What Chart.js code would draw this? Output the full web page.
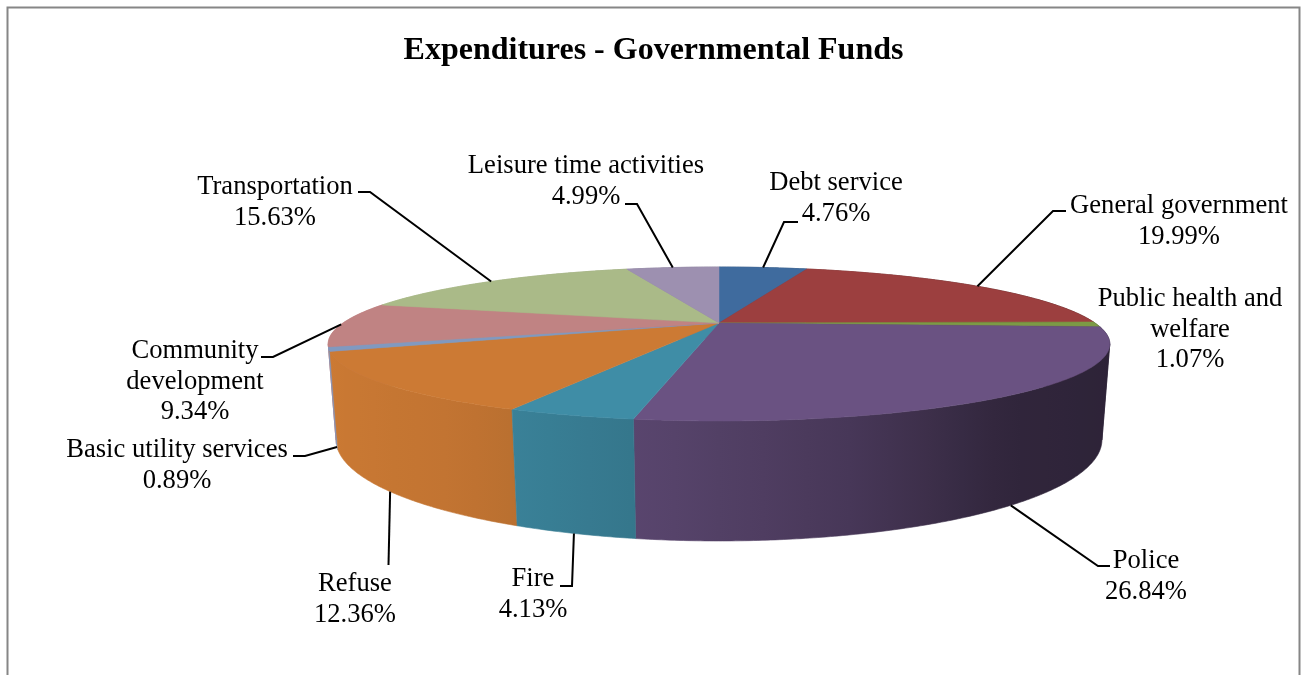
<!DOCTYPE html>
<html>
<head>
<meta charset="utf-8">
<title>Expenditures - Governmental Funds</title>
<style>
  html, body { margin: 0; padding: 0; background: #fff; }
  canvas { display: block; }
</style>
</head>
<body>
<canvas id="chart" width="1307" height="675"></canvas>
<script src="https://cdn.jsdelivr.net/npm/chart.js@4"></script>
<script>
const categories = [
    'Debt service',
    'General government',
    'Public health and welfare',
    'Police',
    'Fire',
    'Refuse',
    'Basic utility services',
    'Community development',
    'Transportation',
    'Leisure time activities'
];
const shares = [4.76, 19.99, 1.07, 26.84, 4.13, 12.36, 0.89, 9.34, 15.63, 4.99];
const sliceColors = [
    '#3f6b9e', '#9c3f3f', '#7c9a45', '#6a5282', '#3f8da6',
    '#cc7a34', '#8099c0', '#c08383', '#aaba88', '#9d90b0'
];

// how each label is wrapped and where it sits: [centre x, first line y, leader points]
const labelLines = [
    ['Debt service'],
    ['General government'],
    ['Public health and', 'welfare'],
    ['Police'],
    ['Fire'],
    ['Refuse'],
    ['Basic utility services'],
    ['Community', 'development'],
    ['Transportation'],
    ['Leisure time activities']
];
const labelSpots = [
    [836, 183, [[784, 222], [798, 222]]],
    [1179, 206, [[1053, 211], [1066, 211]]],
    [1190, 299, []],
    [1146, 561, [[1098, 566], [1110, 566]]],
    [533, 579, [[572, 586], [560, 586]]],
    [355, 584, [[388.5, 565]]],
    [177, 450, [[305, 456], [293, 456]]],
    [195, 351, [[273, 357], [261, 357]]],
    [275, 187, [[370, 192], [358, 192]]],
    [586, 166, [[637, 204], [625, 204]]]
];

// the 3d look: a perspective projection of the unit disc, h is 0 on top and 1 at the base
const view = { cx: 719, cy: 323, a: 376, b: 71.27, k: -0.2727, c: 91.4, m: 0.019 };
function project(angle, h) {
    const u = Math.cos(angle), v = Math.sin(angle);
    const w = 1 + view.k * v + view.m * h;
    return {
        x: view.cx + view.a * u / w,
        y: view.cy + (view.b * v + view.c * h) / w
    };
}
// the rim turns away from the viewer here, wall polygons must not cross these
const rimFold = Math.asin(0.27);

// wall brightness across the pie, left to right
const shadeStops = [[-1, 1], [-0.55, 0.95], [-0.16, 0.84], [0.25, 0.68], [0.6, 0.46], [1, 0.42]];
function shadeAt(u) {
    for (let i = 1; i < shadeStops.length; i++) {
        const p = shadeStops[i - 1], q = shadeStops[i];
        if (u <= q[0]) return p[1] + (q[1] - p[1]) * (u - p[0]) / (q[0] - p[0]);
    }
    return shadeStops[shadeStops.length - 1][1];
}
function tint(hex, f) {
    const n = parseInt(hex.slice(1), 16);
    return 'rgb(' + Math.round((n >> 16) * f) + ',' + Math.round(((n >> 8) & 255) * f) + ',' + Math.round((n & 255) * f) + ')';
}
function wallGradient(ctx, hex) {
    const x0 = view.cx - 392, x1 = view.cx + 392;
    const g = ctx.createLinearGradient(x0, 0, x1, 0);
    g.addColorStop(0, tint(hex, shadeAt(-1)));
    // only the front part of the rim, x grows steadily there
    for (let d = 25; d <= 155; d += 5) {
        const angle = Math.PI - d * Math.PI / 180;
        const x = project(angle, 0.5).x;
        g.addColorStop((x - x0) / (x1 - x0), tint(hex, shadeAt(Math.cos(angle))));
    }
    g.addColorStop(1, tint(hex, shadeAt(1)));
    return g;
}

const pie3d = {
    id: 'pie3d',
    // draws the arcs of the pie controller in perspective instead of flat
    beforeDatasetsDraw(chart) {
        const ctx = chart.ctx;
        const arcs = chart.getDatasetMeta(0).data;
        const step = Math.PI / 360;
        const pieces = [];
        arcs.forEach((arc, i) => {
            const cuts = [arc.startAngle];
            [rimFold, Math.PI - rimFold].forEach(f => {
                if (f > arc.startAngle && f < arc.endAngle) cuts.push(f);
            });
            cuts.push(arc.endAngle);
            for (let j = 1; j < cuts.length; j++) {
                pieces.push({ a0: cuts[j - 1], a1: cuts[j], i, v: Math.sin((cuts[j - 1] + cuts[j]) / 2) });
            }
        });
        pieces.sort((p, q) => p.v - q.v);
        ctx.save();
        ctx.lineJoin = 'round';
        // walls, back pieces first
        pieces.forEach(s => {
            const n = Math.max(2, Math.ceil((s.a1 - s.a0) / step));
            ctx.beginPath();
            for (let j = 0; j <= n; j++) {
                const pt = project(s.a0 + (s.a1 - s.a0) * j / n, 0);
                j ? ctx.lineTo(pt.x, pt.y) : ctx.moveTo(pt.x, pt.y);
            }
            for (let j = n; j >= 0; j--) {
                const pt = project(s.a0 + (s.a1 - s.a0) * j / n, 1);
                ctx.lineTo(pt.x, pt.y);
            }
            ctx.closePath();
            const g = wallGradient(ctx, sliceColors[s.i]);
            ctx.fillStyle = g;
            ctx.strokeStyle = g;
            ctx.lineWidth = 0.6;
            ctx.fill();
            ctx.stroke();
        });
        // top face
        arcs.forEach((arc, i) => {
            const n = Math.max(2, Math.ceil((arc.endAngle - arc.startAngle) / step));
            ctx.beginPath();
            ctx.moveTo(view.cx, view.cy);
            for (let j = 0; j <= n; j++) {
                const pt = project(arc.startAngle + (arc.endAngle - arc.startAngle) * j / n, 0);
                ctx.lineTo(pt.x, pt.y);
            }
            ctx.closePath();
            ctx.fillStyle = sliceColors[i];
            ctx.strokeStyle = sliceColors[i];
            ctx.lineWidth = 0.5;
            ctx.fill();
            ctx.stroke();
        });
        ctx.restore();
        return false;
    },
    afterDraw(chart) {
        const ctx = chart.ctx;
        const arcs = chart.getDatasetMeta(0).data;
        ctx.save();
        // outer frame, the bottom edge is cut off in the original
        ctx.strokeStyle = '#868686';
        ctx.lineWidth = 2;
        ctx.beginPath();
        ctx.moveTo(7.5, 675);
        ctx.lineTo(7.5, 7.5);
        ctx.lineTo(1299.5, 7.5);
        ctx.lineTo(1299.5, 675);
        ctx.stroke();

        ctx.strokeStyle = '#000';
        ctx.lineWidth = 2;
        arcs.forEach((arc, i) => {
            const spot = labelSpots[i];
            if (spot[2].length) {
                const mid = (arc.startAngle + arc.endAngle) / 2;
                const from = project(mid, Math.sin(mid) > 0.1 ? 1 : 0);
                ctx.beginPath();
                ctx.moveTo(from.x, from.y);
                spot[2].forEach(pt => ctx.lineTo(pt[0], pt[1]));
                ctx.stroke();
            }
        });

        ctx.fillStyle = '#000';
        ctx.font = '26.6px "Liberation Serif"';
        ctx.textAlign = 'center';
        ctx.textBaseline = 'middle';
        categories.forEach((name, i) => {
            const lines = labelLines[i].concat(shares[i].toFixed(2) + '%');
            lines.forEach((line, j) => {
                ctx.fillText(line, labelSpots[i][0], labelSpots[i][1] + j * 30.6);
            });
        });
        ctx.restore();
    }
};

const myChart = new Chart(document.getElementById('chart'), {
    type: 'pie',
    data: {
        labels: categories,
        datasets: [{
            data: shares,
            backgroundColor: sliceColors,
            borderWidth: 0
        }]
    },
    options: {
        responsive: false,
        animation: false,
        devicePixelRatio: 1,
        plugins: {
            legend: { display: false },
            tooltip: { enabled: false },
            title: {
                display: true,
                text: 'Expenditures - Governmental Funds',
                color: '#000',
                font: { family: '"Liberation Serif"', size: 32, weight: 'bold' },
                padding: { top: 32, bottom: 10 }
            }
        }
    },
    plugins: [pie3d]
});
</script>
</body>
</html>
